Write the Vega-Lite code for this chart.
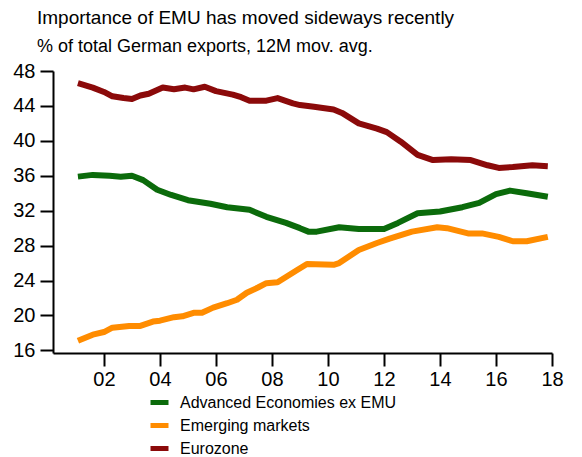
{
  "$schema": "https://vega.github.io/schema/vega-lite/v6.json",
  "autosize": "none",
  "width": 499,
  "height": 282,
  "padding": {"left": 53, "top": 71, "right": 30, "bottom": 104},
  "background": "white",
  "title": {
    "text": "Importance of EMU has moved sideways recently",
    "subtitle": "% of total German exports, 12M mov. avg.",
    "anchor": "start",
    "frame": "group",
    "dx": -16,
    "offset": 5,
    "subtitlePadding": 10,
    "font": "Liberation Sans",
    "fontSize": 19,
    "fontWeight": "normal",
    "color": "black",
    "subtitleFont": "Liberation Sans",
    "subtitleFontSize": 18,
    "subtitleColor": "black"
  },
  "config": {"view": {"stroke": null}},
  "data": {
    "values": [
      {"date": 2001.07, "series": "Eurozone", "value": 46.6},
      {"date": 2001.6, "series": "Eurozone", "value": 46.1},
      {"date": 2002.0, "series": "Eurozone", "value": 45.6},
      {"date": 2002.3, "series": "Eurozone", "value": 45.1},
      {"date": 2002.7, "series": "Eurozone", "value": 44.9},
      {"date": 2003.0, "series": "Eurozone", "value": 44.8},
      {"date": 2003.3, "series": "Eurozone", "value": 45.2},
      {"date": 2003.6, "series": "Eurozone", "value": 45.4},
      {"date": 2004.1, "series": "Eurozone", "value": 46.1},
      {"date": 2004.5, "series": "Eurozone", "value": 45.9},
      {"date": 2004.9, "series": "Eurozone", "value": 46.1},
      {"date": 2005.2, "series": "Eurozone", "value": 45.9},
      {"date": 2005.6, "series": "Eurozone", "value": 46.2},
      {"date": 2006.0, "series": "Eurozone", "value": 45.7},
      {"date": 2006.6, "series": "Eurozone", "value": 45.3},
      {"date": 2006.9, "series": "Eurozone", "value": 45.0},
      {"date": 2007.2, "series": "Eurozone", "value": 44.6},
      {"date": 2007.8, "series": "Eurozone", "value": 44.6},
      {"date": 2008.2, "series": "Eurozone", "value": 44.9},
      {"date": 2008.75, "series": "Eurozone", "value": 44.3},
      {"date": 2009.0, "series": "Eurozone", "value": 44.1},
      {"date": 2009.5, "series": "Eurozone", "value": 43.9},
      {"date": 2010.2, "series": "Eurozone", "value": 43.6},
      {"date": 2010.5, "series": "Eurozone", "value": 43.2},
      {"date": 2011.1, "series": "Eurozone", "value": 42.0},
      {"date": 2011.75, "series": "Eurozone", "value": 41.4},
      {"date": 2012.1, "series": "Eurozone", "value": 41.0},
      {"date": 2012.6, "series": "Eurozone", "value": 39.9},
      {"date": 2013.2, "series": "Eurozone", "value": 38.4},
      {"date": 2013.75, "series": "Eurozone", "value": 37.8},
      {"date": 2014.4, "series": "Eurozone", "value": 37.9},
      {"date": 2015.1, "series": "Eurozone", "value": 37.8},
      {"date": 2015.7, "series": "Eurozone", "value": 37.2},
      {"date": 2016.1, "series": "Eurozone", "value": 36.9},
      {"date": 2016.6, "series": "Eurozone", "value": 37.0},
      {"date": 2017.3, "series": "Eurozone", "value": 37.2},
      {"date": 2017.85, "series": "Eurozone", "value": 37.1},

      {"date": 2001.07, "series": "Advanced Economies ex EMU", "value": 35.9},
      {"date": 2001.6, "series": "Advanced Economies ex EMU", "value": 36.1},
      {"date": 2002.2, "series": "Advanced Economies ex EMU", "value": 36.0},
      {"date": 2002.6, "series": "Advanced Economies ex EMU", "value": 35.9},
      {"date": 2003.0, "series": "Advanced Economies ex EMU", "value": 36.0},
      {"date": 2003.4, "series": "Advanced Economies ex EMU", "value": 35.5},
      {"date": 2003.9, "series": "Advanced Economies ex EMU", "value": 34.4},
      {"date": 2004.4, "series": "Advanced Economies ex EMU", "value": 33.8},
      {"date": 2005.0, "series": "Advanced Economies ex EMU", "value": 33.2},
      {"date": 2005.8, "series": "Advanced Economies ex EMU", "value": 32.8},
      {"date": 2006.4, "series": "Advanced Economies ex EMU", "value": 32.4},
      {"date": 2007.2, "series": "Advanced Economies ex EMU", "value": 32.1},
      {"date": 2007.8, "series": "Advanced Economies ex EMU", "value": 31.3},
      {"date": 2008.5, "series": "Advanced Economies ex EMU", "value": 30.6},
      {"date": 2009.0, "series": "Advanced Economies ex EMU", "value": 30.0},
      {"date": 2009.3, "series": "Advanced Economies ex EMU", "value": 29.6},
      {"date": 2009.6, "series": "Advanced Economies ex EMU", "value": 29.6},
      {"date": 2010.4, "series": "Advanced Economies ex EMU", "value": 30.1},
      {"date": 2011.1, "series": "Advanced Economies ex EMU", "value": 29.9},
      {"date": 2012.0, "series": "Advanced Economies ex EMU", "value": 29.9},
      {"date": 2012.5, "series": "Advanced Economies ex EMU", "value": 30.6},
      {"date": 2013.2, "series": "Advanced Economies ex EMU", "value": 31.7},
      {"date": 2014.0, "series": "Advanced Economies ex EMU", "value": 31.9},
      {"date": 2014.8, "series": "Advanced Economies ex EMU", "value": 32.4},
      {"date": 2015.4, "series": "Advanced Economies ex EMU", "value": 32.9},
      {"date": 2016.0, "series": "Advanced Economies ex EMU", "value": 33.9},
      {"date": 2016.5, "series": "Advanced Economies ex EMU", "value": 34.3},
      {"date": 2017.1, "series": "Advanced Economies ex EMU", "value": 34.0},
      {"date": 2017.85, "series": "Advanced Economies ex EMU", "value": 33.6},

      {"date": 2001.07, "series": "Emerging markets", "value": 17.1},
      {"date": 2001.6, "series": "Emerging markets", "value": 17.8},
      {"date": 2002.0, "series": "Emerging markets", "value": 18.1},
      {"date": 2002.3, "series": "Emerging markets", "value": 18.6},
      {"date": 2002.9, "series": "Emerging markets", "value": 18.8},
      {"date": 2003.3, "series": "Emerging markets", "value": 18.8},
      {"date": 2003.75, "series": "Emerging markets", "value": 19.3},
      {"date": 2004.0, "series": "Emerging markets", "value": 19.4},
      {"date": 2004.5, "series": "Emerging markets", "value": 19.8},
      {"date": 2004.8, "series": "Emerging markets", "value": 19.9},
      {"date": 2005.2, "series": "Emerging markets", "value": 20.3},
      {"date": 2005.5, "series": "Emerging markets", "value": 20.3},
      {"date": 2005.9, "series": "Emerging markets", "value": 20.9},
      {"date": 2006.4, "series": "Emerging markets", "value": 21.4},
      {"date": 2006.75, "series": "Emerging markets", "value": 21.8},
      {"date": 2007.1, "series": "Emerging markets", "value": 22.6},
      {"date": 2007.5, "series": "Emerging markets", "value": 23.2},
      {"date": 2007.8, "series": "Emerging markets", "value": 23.7},
      {"date": 2008.2, "series": "Emerging markets", "value": 23.8},
      {"date": 2008.5, "series": "Emerging markets", "value": 24.4},
      {"date": 2008.9, "series": "Emerging markets", "value": 25.2},
      {"date": 2009.25, "series": "Emerging markets", "value": 25.9},
      {"date": 2010.2, "series": "Emerging markets", "value": 25.8},
      {"date": 2010.4, "series": "Emerging markets", "value": 26.0},
      {"date": 2011.1, "series": "Emerging markets", "value": 27.5},
      {"date": 2011.75, "series": "Emerging markets", "value": 28.3},
      {"date": 2012.2, "series": "Emerging markets", "value": 28.8},
      {"date": 2013.0, "series": "Emerging markets", "value": 29.6},
      {"date": 2013.9, "series": "Emerging markets", "value": 30.1},
      {"date": 2014.25, "series": "Emerging markets", "value": 30.0},
      {"date": 2015.0, "series": "Emerging markets", "value": 29.4},
      {"date": 2015.5, "series": "Emerging markets", "value": 29.4},
      {"date": 2016.1, "series": "Emerging markets", "value": 29.0},
      {"date": 2016.6, "series": "Emerging markets", "value": 28.5},
      {"date": 2017.1, "series": "Emerging markets", "value": 28.5},
      {"date": 2017.85, "series": "Emerging markets", "value": 29.0}
    ]
  },
  "mark": {"type": "line", "strokeWidth": 6, "strokeJoin": "round"},
  "encoding": {
    "x": {
      "field": "date",
      "type": "quantitative",
      "scale": {"domain": [2000.18, 2018], "nice": false, "zero": false},
      "axis": {
        "title": null,
        "values": [2002, 2004, 2006, 2008, 2010, 2012, 2014, 2016, 2018],
        "labelExpr": "substring(toString(datum.value), 2)",
        "domain": true,
        "domainColor": "black",
        "domainWidth": 2,
        "grid": false,
        "ticks": true,
        "tickSize": 13,
        "tickWidth": 2,
        "tickColor": "black",
        "labelPadding": 3,
        "labelFont": "Liberation Sans",
        "labelFontSize": 20,
        "labelColor": "black",
        "labelFlush": false,
        "labelOverlap": false
      }
    },
    "y": {
      "field": "value",
      "type": "quantitative",
      "scale": {"domain": [15.7, 48], "nice": false, "zero": false},
      "axis": {
        "title": null,
        "values": [16, 20, 24, 28, 32, 36, 40, 44, 48],
        "grid": false,
        "domain": true,
        "domainColor": "black",
        "domainWidth": 2,
        "tickSize": 13,
        "tickWidth": 2,
        "tickColor": "black",
        "labelPadding": 5,
        "labelFont": "Liberation Sans",
        "labelFontSize": 20,
        "labelColor": "black",
        "labelFlush": false,
        "labelOverlap": false
      }
    },
    "color": {
      "field": "series",
      "type": "nominal",
      "scale": {
        "domain": ["Advanced Economies ex EMU", "Emerging markets", "Eurozone"],
        "range": ["#0b6b0b", "#ff8c00", "#8b0a0a"]
      },
      "legend": {
        "title": null,
        "orient": "none",
        "legendX": 95,
        "legendY": 320,
        "symbolType": "stroke",
        "symbolSize": 324,
        "symbolStrokeWidth": 5,
        "labelFont": "Liberation Sans",
        "labelFontSize": 16,
        "labelColor": "black",
        "labelOffset": 9,
        "rowPadding": 1,
        "labelLimit": 400
      }
    }
  }
}
